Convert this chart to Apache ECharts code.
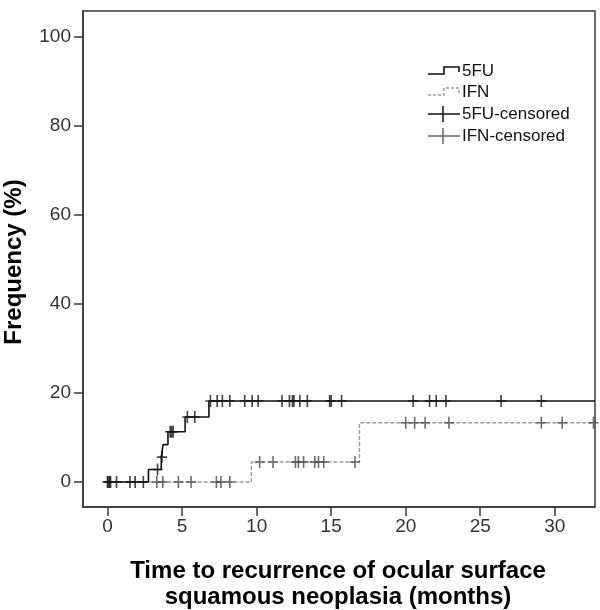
<!DOCTYPE html>
<html><head><meta charset="utf-8">
<script src="https://cdn.jsdelivr.net/npm/echarts@6/dist/echarts.min.js"></script>
<style>html,body{margin:0;padding:0;background:#fff}#c{width:600px;height:610px}</style>
</head><body><div id="c"></div>
<script>
// Kaplan-Meier step points (time in months, cumulative recurrence %)
var fuTimes   = [0, 2.74, 3.6, 3.72, 4.05, 5.2, 6.8, 32.7];
var fuValues  = [0, 2.8, 5.6, 8.4, 11.3, 14.6, 18.2, 18.2];
var ifnTimes  = [0, 9.65, 16.9, 32.7];
var ifnValues = [0, 4.5, 13.3, 13.3];
// censored observations
var fuCensTimes  = [0, 0.1, 0.2, 0.6, 1.5, 1.85, 2.4, 3.35, 3.65, 4.2, 4.3, 4.4, 5.35, 5.85,
                    6.9, 7.35, 7.7, 8.2, 9.2, 9.7, 10.1, 11.7, 12.2, 12.4, 12.5, 12.9, 13.4,
                    14.9, 15.0, 15.7, 20.5, 21.6, 22.05, 22.7, 26.4, 29.1];
var fuCensValues = [0, 0, 0, 0, 0, 0, 0, 2.8, 5.6, 11.3, 11.3, 11.3, 14.6, 14.6,
                    18.2, 18.2, 18.2, 18.2, 18.2, 18.2, 18.2, 18.2, 18.2, 18.2, 18.2, 18.2, 18.2,
                    18.2, 18.2, 18.2, 18.2, 18.2, 18.2, 18.2, 18.2, 18.2];
var ifnCensTimes  = [0, 0.15, 3.3, 3.7, 4.75, 5.6, 7.3, 7.6, 8.2,
                     10.2, 11.1, 12.6, 12.8, 13.15, 13.9, 14.15, 14.5, 16.6,
                     20.0, 20.6, 21.3, 22.9, 29.1, 30.5, 32.6];
var ifnCensValues = [0, 0, 0, 0, 0, 0, 0, 0, 0,
                     4.5, 4.5, 4.5, 4.5, 4.5, 4.5, 4.5, 4.5, 4.5,
                     13.3, 13.3, 13.3, 13.3, 13.3, 13.3, 13.3];
var xTicks = [0, 5, 10, 15, 20, 25, 30];
var yTicks = [0, 20, 40, 60, 80, 100];
var legendNames = ['5FU', 'IFN', '5FU-censored', 'IFN-censored'];

function zip(a, b) { return a.map(function (v, i) { return [v, b[i]]; }); }

var FONT = '"Liberation Sans", Arial, sans-serif';
var FRAME = '#3a3a3a';
var plusPath = 'path://M4.2,0h1.6v12h-1.6z M0,5.2h10v1.6h-10z';

var chart = echarts.init(document.getElementById('c'));

// legend drawn as graphics
var lx0 = 428, lx1 = 459, ltx = 462, rows = [71, 92, 114, 136];
var legendGraphics = [];
legendGraphics.push({type: 'polyline', shape: {points: [[lx0, rows[0] + 3], [lx0 + 16, rows[0] + 3], [lx0 + 16, rows[0] - 4], [lx1, rows[0] - 4], [lx1, rows[0] + 1]]},
  style: {stroke: '#111', lineWidth: 1.6, fill: null}});
legendGraphics.push({type: 'polyline', shape: {points: [[lx0, rows[1] + 3], [lx0 + 16, rows[1] + 3], [lx0 + 16, rows[1] - 4], [lx1, rows[1] - 4], [lx1, rows[1] + 1]]},
  style: {stroke: '#999', lineWidth: 1.4, lineDash: [3, 2], fill: null}});
legendGraphics.push({type: 'line', shape: {x1: lx0, y1: rows[2], x2: lx1 + 1, y2: rows[2]}, style: {stroke: '#111', lineWidth: 1.5}});
legendGraphics.push({type: 'line', shape: {x1: lx0 + 15, y1: rows[2] - 8, x2: lx0 + 15, y2: rows[2] + 8}, style: {stroke: '#111', lineWidth: 1.5}});
legendGraphics.push({type: 'line', shape: {x1: lx0, y1: rows[3], x2: lx1 + 1, y2: rows[3]}, style: {stroke: '#666', lineWidth: 1.5}});
legendGraphics.push({type: 'line', shape: {x1: lx0 + 15, y1: rows[3] - 8, x2: lx0 + 15, y2: rows[3] + 8}, style: {stroke: '#666', lineWidth: 1.5}});
legendNames.forEach(function (n, i) {
  legendGraphics.push({type: 'text', x: ltx, y: rows[i], style: {text: n, font: '17px ' + FONT, fill: '#111', textVerticalAlign: 'middle'}});
});
legendGraphics.push({type: 'text', x: 14, y: 262, rotation: Math.PI / 2,
  style: {text: 'Frequency (%)', font: 'bold 24px ' + FONT, fill: '#000', textAlign: 'center', textVerticalAlign: 'middle'}});
legendGraphics.push({type: 'text', x: 338, y: 571,
  style: {text: 'Time to recurrence of ocular surface', font: 'bold 24px ' + FONT, fill: '#000', textAlign: 'center', textVerticalAlign: 'middle'}});
legendGraphics.push({type: 'text', x: 338, y: 597,
  style: {text: 'squamous neoplasia (months)', font: 'bold 24px ' + FONT, fill: '#000', textAlign: 'center', textVerticalAlign: 'middle'}});

chart.setOption({
  animation: false,
  backgroundColor: '#fff',
  grid: {left: 83, right: 5, top: 11, bottom: 103, show: true, borderColor: FRAME, borderWidth: 1.5, containLabel: false},
  xAxis: {
    type: 'value', min: -1.65, max: 32.7,
    splitLine: {show: false},
    axisLine: {show: true, onZero: false, lineStyle: {color: FRAME, width: 1.5}},
    axisTick: {show: true, customValues: xTicks, length: 9, lineStyle: {color: FRAME, width: 1.5}},
    axisLabel: {show: true, customValues: xTicks, color: '#333', fontSize: 19, fontFamily: FONT, margin: 10}
  },
  yAxis: {
    type: 'value', min: -5.6, max: 105.7,
    splitLine: {show: false},
    axisLine: {show: true, onZero: false, lineStyle: {color: FRAME, width: 1.5}},
    axisTick: {show: true, customValues: yTicks, length: 9, lineStyle: {color: FRAME, width: 1.5}},
    axisLabel: {show: true, customValues: yTicks, color: '#333', fontSize: 19, fontFamily: FONT, margin: 12}
  },
  graphic: legendGraphics,
  series: [
    {name: '5FU', type: 'line', step: 'end', data: zip(fuTimes, fuValues), showSymbol: false, clip: true,
      lineStyle: {color: '#111', width: 1.6}, z: 3},
    {name: 'IFN', type: 'line', step: 'end', data: zip(ifnTimes, ifnValues), showSymbol: false, clip: true,
      lineStyle: {color: '#999', width: 1.4, type: [4, 2]}, z: 2},
    {name: '5FU-censored', type: 'scatter', data: zip(fuCensTimes, fuCensValues), symbol: plusPath, symbolSize: [10, 12],
      itemStyle: {color: '#111'}, z: 5},
    {name: 'IFN-censored', type: 'scatter', data: zip(ifnCensTimes, ifnCensValues), symbol: plusPath, symbolSize: [10, 12],
      itemStyle: {color: '#4a4a4a'}, z: 4}
  ]
});
</script>
</body></html>
